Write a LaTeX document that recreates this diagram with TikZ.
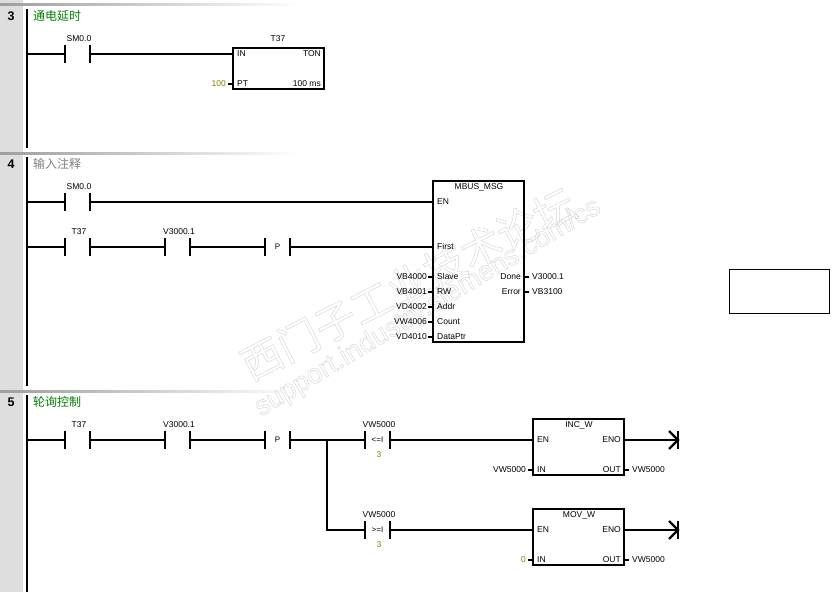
\documentclass[tikz,border=0pt]{standalone}
\usetikzlibrary{calc}
\usepackage{fontspec}
\setmainfont{Liberation Sans}
\newfontfamily\cjk{Noto Sans CJK SC}
\definecolor{olivetxt}{HTML}{808000}
\definecolor{greentxt}{HTML}{008000}
\definecolor{graytxt}{HTML}{808080}
\tikzset{
  wire/.style={line width=2.2pt,line cap=butt},
  txt/.style={font=\fontsize{8.5}{10}\selectfont,inner sep=0pt,text=black,text height=6.1pt,text depth=1.4pt},
  val/.style={txt,text=olivetxt},
  cbox/.style={minimum width=25pt,minimum height=17pt,inner sep=0pt,font=\fontsize{8}{10}\selectfont,text height=5.8pt,text depth=1pt},
  blockbox/.style={draw,line width=2.2pt,inner sep=0pt},
  netnum/.style={font=\fontsize{12.5}{14}\selectfont\bfseries,inner sep=0pt,text height=8.9pt,text depth=0pt},
  comment/.style={font=\cjk\fontsize{12}{14}\selectfont,inner sep=0pt,anchor=west},
  sep/.style={left color=black!38,right color=white,draw=none},
  railc/.style={line width=2.4pt},
}
\newcommand{\Contact}[5]{% name, x-centre, y, top label, inner
  \node[cbox] (#1) at (#2,#3) {#5};
  \draw[wire] (#1.north west) -- (#1.south west);
  \draw[wire] (#1.north east) -- (#1.south east);
  \node[txt] (#1top) at (#2+1.5,#3-15) {#4};
}
\newcommand{\WM}[1]{\special{pdf: code q 1 Tr 0.5 w 0.85 G}#1\special{pdf: code Q}}
\begin{document}
\begin{tikzpicture}[x=1pt,y=-1pt]
\useasboundingbox (0,0) rectangle (834,592);
\fill[white] (0,0) rectangle (834,592);
% gutter
\fill[black!13] (0,0) rectangle (23,592);
\shade[sep] (0,3.5) rectangle (300,5.5);
\shade[sep] (0,152) rectangle (300,154);
\shade[sep] (0,390) rectangle (300,392);
% watermark
\node[inner sep=0pt,rotate=27,font=\cjk\fontsize{41}{44}\selectfont] (wm1) at (408,284) {\WM{西门子工业技术论坛}};
\node[inner sep=0pt,rotate=31,font=\fontsize{27.5}{30}\selectfont] (wm2) at (428,308) {\WM{support.industry.siemens.com/cs}};
% net numbers and comments
\node[netnum] (n3) at (11,16) {3};
\node[netnum] (n4) at (11,164) {4};
\node[netnum] (n5) at (11,402) {5};
\node[comment,text=greentxt] (c3) at (33,16) {通电延时};
\node[comment,text=graytxt] (c4) at (33,164) {输入注释};
\node[comment,text=greentxt] (c5) at (33,402) {轮询控制};
% rails
\coordinate (r3a) at (27,9); \coordinate (r3b) at (27,148);
\coordinate (r4a) at (27,157); \coordinate (r4b) at (27,386);
\coordinate (r5a) at (27,395); \coordinate (r5b) at (27,592);
\draw[railc] (r3a) -- (r3b);
\draw[railc] (r4a) -- (r4b);
\draw[railc] (r5a) -- (r5b);
% network 3
\Contact{a1}{77.5}{54}{SM0.0}{}
\node[blockbox,minimum width=91pt,minimum height=41pt] (ton) at (278.5,68.5) {};
\node[txt] (tontop) at (278,39) {T37};
\node[txt,anchor=west] (tonin) at (237,54) {IN};
\node[txt,anchor=east] (tonname) at (321,54) {TON};
\node[txt,anchor=west] (tonpt) at (237,84) {PT};
\node[txt,anchor=east] (tonms) at (321,84) {100 ms};
\node[val,anchor=east] (v100) at (226,84) {100};
\draw[wire] (a1.west -| r3a) -- (a1.west);
\draw[wire] (a1.east) -- (ton.west |- a1.east);
\draw[wire] (v100.east) ++(2,0) -- (ton.west |- v100.east);
% network 4
\Contact{b1}{77.5}{202}{SM0.0}{}
\Contact{b2}{77.5}{247}{T37}{}
\Contact{b3}{177.5}{247}{V3000.1}{}
\Contact{b4}{277.5}{247}{}{P}
\node[blockbox,minimum width=91pt,minimum height=161pt] (mbus) at (478.5,261.5) {};
\node[txt] (mbustop) at (479,187) {MBUS\_MSG};
\node[txt,anchor=west] (men) at (437,202) {EN};
\node[txt,anchor=west] (mfi) at (437,247) {First};
\foreach \n/\t/\v/\y in {s/Slave/VB4000/277,r/RW/VB4001/292,a/Addr/VD4002/307,c/Count/VW4006/322,d/DataPtr/VD4010/337}{
  \node[txt,anchor=west] (mi\n) at (437,\y) {\t};
  \node[txt,anchor=east] (mv\n) at (427,\y) {\v};
  \draw[wire] (mv\n.east) ++(1,0) -- (mbus.west |- mv\n.east);
}
\foreach \n/\t/\v/\y in {o/Done/V3000.1/277,e/Error/VB3100/292}{
  \node[txt,anchor=east] (mo\n) at (521,\y) {\t};
  \node[txt,anchor=west] (mw\n) at (532,\y) {\v};
  \draw[wire] (mbus.east |- mw\n.west) -- ++(4,0);
}
\draw[wire] (b1.west -| r4a) -- (b1.west);
\draw[wire] (b1.east) -- (mbus.west |- b1.east);
\draw[wire] (b2.west -| r4a) -- (b2.west);
\draw[wire] (b2.east) -- (b3.west);
\draw[wire] (b3.east) -- (b4.west);
\draw[wire] (b4.east) -- (mbus.west |- b4.east);
% network 5
\Contact{d1}{77.5}{440}{T37}{}
\Contact{d2}{177.5}{440}{V3000.1}{}
\Contact{d3}{277.5}{440}{}{P}
\Contact{d4}{377.5}{440}{VW5000}{<=I}
\Contact{d5}{377.5}{530}{VW5000}{>=I}
\node[val] (d4v) at (379,455) {3};
\node[val] (d5v) at (379,545) {3};
\coordinate (br) at (327,440);
\draw[wire] (d1.west -| r5a) -- (d1.west);
\draw[wire] (d1.east) -- (d2.west);
\draw[wire] (d2.east) -- (d3.west);
\draw[wire] (d3.east) -- (d4.west);
\draw[wire] (br) -- (br |- d5.west) -- (d5.west);
\foreach \k/\ttl/\yt/\ye/\yi/\lab/\sty in {inc/INC\_W/447/440/470/VW5000/txt,mov/MOV\_W/537/530/560/0/val}{
  \node[blockbox,minimum width=91pt,minimum height=56pt] (\k) at (578.5,\yt) {};
  \node[txt] (\k top) at (579,\ye-14.5) {\ttl};
  \node[txt,anchor=west] (\k en) at (537,\ye) {EN};
  \node[txt,anchor=east] (\k eno) at (621,\ye) {ENO};
  \node[txt,anchor=west] (\k in) at (537,\yi) {IN};
  \node[txt,anchor=east] (\k out) at (621,\yi) {OUT};
  \node[\sty,anchor=east] (\k lab) at (526,\yi) {\lab};
  \node[txt,anchor=west] (\k res) at (632,\yi) {VW5000};
  \draw[wire] (\k lab.east) ++(2,0) -- (\k.west |- \k lab.east);
  \draw[wire] (\k.east |- \k res.west) -- ++(4,0);
  \coordinate (\k t) at (678,\ye);
  \draw[wire] (\k.east |- \k t) -- (\k t);
  \draw[wire] ($(\k t)+(0,-9)$) -- ($(\k t)+(0,9)$);
  \draw[wire] ($(\k t)+(-9,-9)$) -- (\k t) -- ($(\k t)+(-9,9)$);
}
\draw[wire] (d4.east) -- (inc.west |- d4.east);
\draw[wire] (d5.east) -- (mov.west |- d5.east);
% stray box
\node[draw=black,line width=.8pt,minimum width=100pt,minimum height=44pt,inner sep=0pt] (stray) at (779,291) {};
\end{tikzpicture}
\end{document}
